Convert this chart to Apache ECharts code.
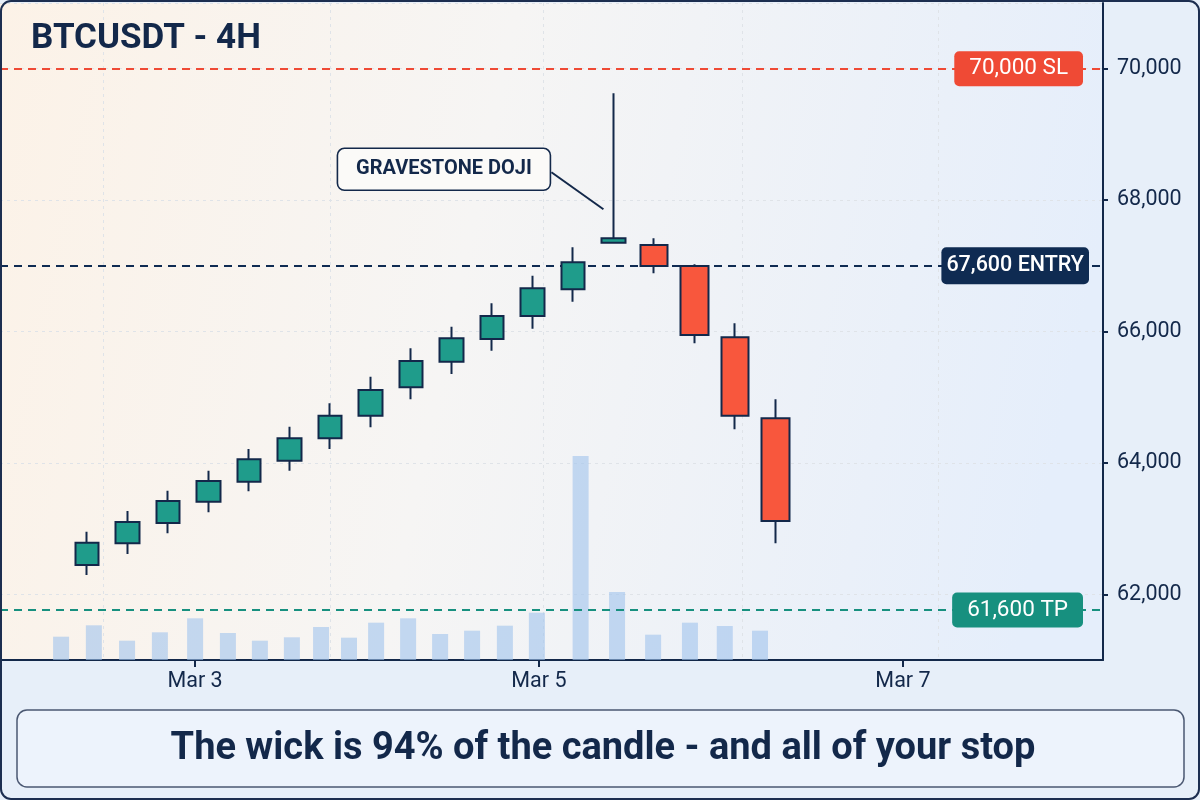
<!DOCTYPE html>
<html><head><meta charset="utf-8">
<script src="https://cdn.jsdelivr.net/npm/echarts@6/dist/echarts.min.js"></script>
<style>html,body{margin:0;padding:0;background:#e7eff9}#c{width:1200px;height:800px}</style>
</head><body><div id="c"></div>
<script>
// ---- data ----
const candleIdx = [0,1,2,3,4,5,6,7,8,9,10,11,12,13,14,15,16,17];
const opens  = [62446,62777,63086,63410,63714,64034,64375,64719,65151,65541,65886,66236,66642,67352,67317,66997,65912,64679];
const closes = [62786,63101,63420,63725,64055,64375,64719,65110,65551,65897,66236,66658,67053,67419,66997,65947,64719,63116];
const lows   = [62294,62614,62929,63248,63568,63882,64212,64542,64968,65353,65708,66043,66454,67352,66886,65821,64512,62777];
const highs  = [62953,63268,63577,63882,64212,64551,64907,65312,65745,66073,66429,66849,67282,69626,67419,67023,66125,64968];

const volPos = [-0.64,0.17,0.99,1.80,2.67,3.48,4.27,5.06,5.78,6.47,7.14,7.93,8.72,9.51,10.32,11.11,12.19,13.09,13.98,14.89,15.75,16.62];
const volumes = [233,347,193,277,417,270,193,227,330,223,373,417,260,293,343,473,2040,680,253,373,340,293];

const tickPos = [2.67, 11.16, 20.15];
const tickLabels = ['Mar 3', 'Mar 5', 'Mar 7'];
const vGridPos = [0.40, 6.0, 11.26, 16.17, 21.01];

const levelValues = [70000, 67000, 61760];
const levelTexts = ['70,000 SL', '67,600 ENTRY', '61,600 TP'];

const titleText = 'BTCUSDT - 4H';
const calloutText = 'GRAVESTONE DOJI';
const captionText = 'The wick is 94% of the candle - and all of your stop';
const dojiIndex = 13;

// ---- styles ----
const NAVY = '#13284a';
const TEAL = '#1f9c8b';
const RED = '#f8573d';
const levelColors = ['#ef4a35', '#0f2b52', '#17907f'];
const levelDist = [20, 14, 20];
const levelPad = [[6, 15], [7, 5], [6, 15]];
const levelFont = [22.5, 21.5, 22.5];
const FONT = 'Roboto';

const up = [], down = [];
candleIdx.forEach((x, i) => {
  const row = [x, opens[i], closes[i], lows[i], highs[i]];
  if (closes[i] >= opens[i]) up.push(row); else down.push(row);
});
const volData = volPos.map((x, i) => [x, volumes[i]]);

const chart = echarts.init(document.getElementById('c'), null, {renderer: 'canvas'});

const candleStyle = (w, fill) => ({
  barWidth: w,
  itemStyle: { color: fill, color0: fill, borderColor: NAVY, borderColor0: NAVY, borderWidth: 2 }
});

const option = {
  backgroundColor: '#e7eff9',
  animation: false,
  textStyle: { fontFamily: FONT },
  title: {
    text: titleText, left: 26, top: 17,
    textStyle: { fontFamily: FONT, fontSize: 35, fontWeight: 'bold', color: NAVY }
  },
  grid: {
    left: 0, right: 97, top: 3, bottom: 140, show: true, borderWidth: 0,
    backgroundColor: {
      type: 'linear', x: 0, y: 0, x2: 1, y2: 0.35,
      colorStops: [
        { offset: 0, color: '#fcf2e7' },
        { offset: 0.45, color: '#f6f5f4' },
        { offset: 1, color: '#e5eefb' }
      ]
    }
  },
  xAxis: [{
    type: 'value', min: -2.148, max: 25.09, position: 'bottom',
    axisLine: { show: true, onZero: false, lineStyle: { color: NAVY, width: 2 } },
    axisTick: { show: true, length: 7, lineStyle: { color: NAVY, width: 2 }, customValues: tickPos },
    axisLabel: {
      customValues: tickPos, margin: 11, fontSize: 21.5, color: NAVY, fontFamily: FONT,
      formatter: v => { const k = tickPos.findIndex(t => Math.abs(t - v) < 1e-6); return k >= 0 ? tickLabels[k] : ''; }
    },
    splitLine: { show: false }
  }, {
    type: 'value', min: -2.148, max: 25.09, position: 'bottom',
    axisLine: { show: false }, axisLabel: { show: false },
    axisTick: { show: false, customValues: vGridPos },
    splitLine: { show: true, lineStyle: { color: '#dfe3e8', type: [3, 4], width: 1 } }
  }],
  yAxis: [{
    type: 'value', min: 61000, max: 71000, position: 'right', scale: true,
    axisLine: { show: true, onZero: false, lineStyle: { color: NAVY, width: 2 } },
    axisTick: { show: true, length: 5, lineStyle: { color: NAVY, width: 2 } },
    axisLabel: {
      margin: 14, fontSize: 21.5, color: NAVY, fontFamily: FONT,
      showMinLabel: false, showMaxLabel: false,
      formatter: v => v.toLocaleString('en-US')
    },
    splitLine: { show: true, lineStyle: { color: '#dfe3e8', type: [3, 4], width: 1 } }
  }, {
    type: 'value', min: 0, max: 6570, show: false, splitLine: { show: false }
  }],
  series: [{
    name: 'Volume', type: 'bar', xAxisIndex: 0, yAxisIndex: 1,
    data: volData, barWidth: 16, z: 1,
    itemStyle: { color: 'rgba(160,195,236,0.6)' }
  }, Object.assign({
    name: 'Up', type: 'candlestick', xAxisIndex: 0, yAxisIndex: 0,
    encode: { x: 0, y: [1, 2, 3, 4] }, data: up, z: 3,
    markLine: {
      symbol: 'none', silent: true, z: 2,
      data: levelValues.map((v, i) => ({
        yAxis: v,
        lineStyle: { color: levelColors[i], type: [8, 6], width: 2 },
        label: {
          show: true, position: 'insideEnd', distance: [levelDist[i], 0],
          formatter: levelTexts[i], color: '#ffffff', fontSize: levelFont[i], fontFamily: FONT,
          fontWeight: i === 1 ? 500 : 'normal', lineHeight: 23,
          backgroundColor: levelColors[i], padding: levelPad[i], borderRadius: 5
        }
      }))
    }
  }, candleStyle(24, TEAL)), Object.assign({
    name: 'Down', type: 'candlestick', xAxisIndex: 0, yAxisIndex: 0,
    encode: { x: 0, y: [1, 2, 3, 4] }, data: down, z: 3
  }, candleStyle(28, RED))],
  graphic: []
};
chart.setOption(option);

// callout anchored to the doji candle
const p = chart.convertToPixel({ gridIndex: 0 }, [candleIdx[dojiIndex], closes[dojiIndex]]);
const px = p[0], py = p[1];
chart.setOption({
  graphic: [
    { type: 'line', z: 50, shape: { x1: px - 62, y1: py - 66, x2: px - 10, y2: py - 29 },
      style: { stroke: NAVY, lineWidth: 2 } },
    { type: 'rect', z: 50, shape: { x: px - 276, y: py - 90, width: 213, height: 42, r: 7 },
      style: { fill: '#fbfaf8', stroke: NAVY, lineWidth: 1.6 } },
    { type: 'text', z: 51, x: px - 169.5, y: py - 69,
      style: { text: calloutText, fill: NAVY, font: 'bold 20px Roboto', align: 'center', verticalAlign: 'middle' } },
    { type: 'rect', z: 40, shape: { x: 17, y: 710, width: 1167, height: 77, r: 10 },
      style: { fill: '#edf3fc', stroke: '#4b5872', lineWidth: 1.5 } },
    { type: 'text', z: 41, x: 603, y: 749,
      style: { text: captionText, fill: NAVY, font: 'bold 38px Roboto', align: 'center', verticalAlign: 'middle' } },
    { type: 'rect', z: 60, silent: true, shape: { x: 1, y: 1, width: 1198, height: 798, r: 10 },
      style: { fill: null, stroke: '#1c2e50', lineWidth: 2 } }
  ]
});
</script>
</body></html>
